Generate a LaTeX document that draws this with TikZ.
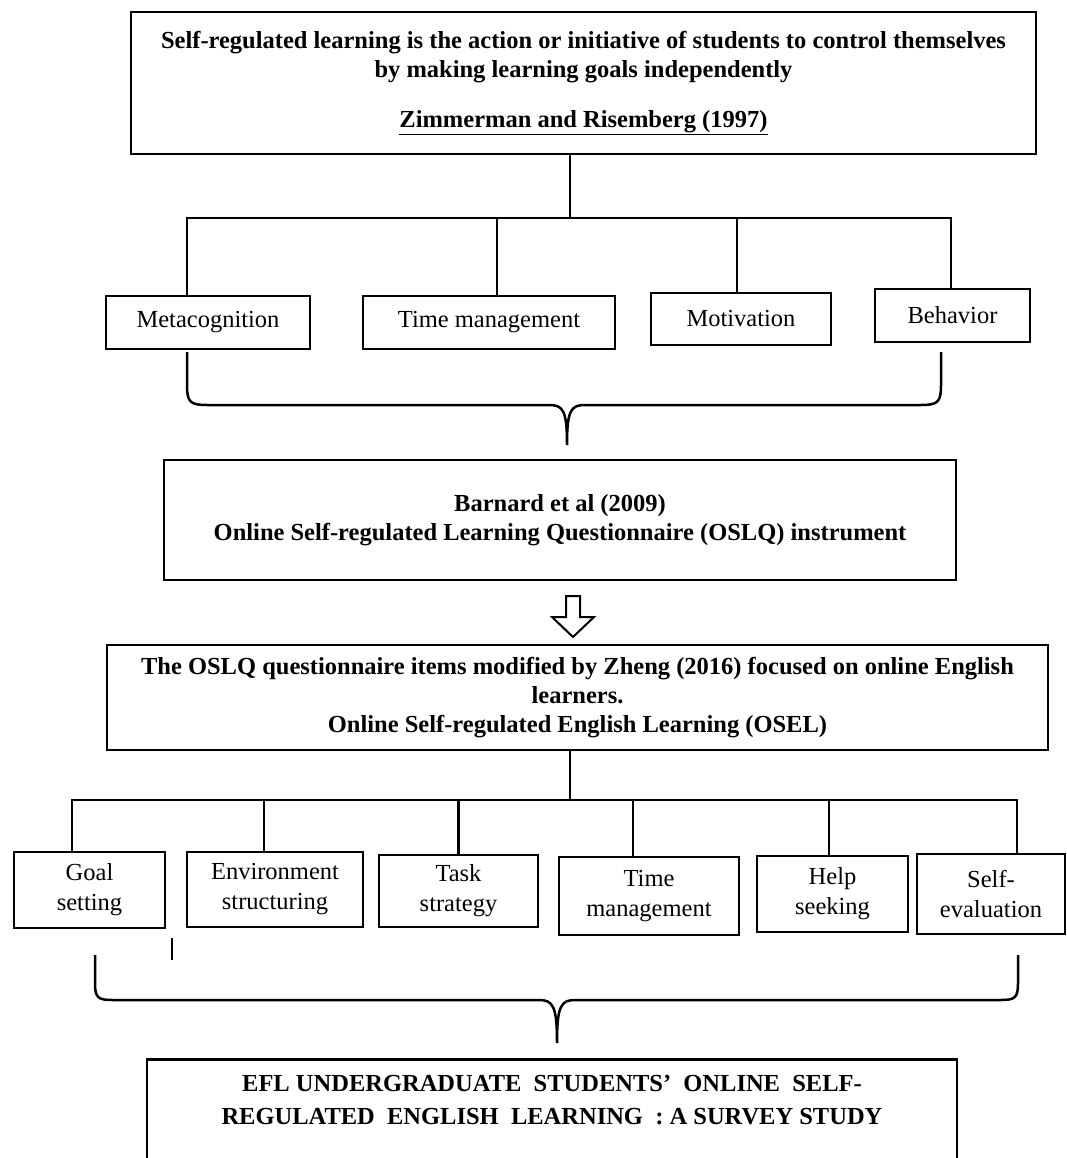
\documentclass[tikz,border=0pt]{standalone}
\usepackage{fontspec}
\setmainfont{Liberation Serif}
\usetikzlibrary{positioning}
\tikzstyle{bigbox} = [draw, line width=2.5pt, align=center, inner sep=0pt, font=\bfseries\fontsize{24.5}{29}\selectfont]
\tikzstyle{smallbox} = [draw, line width=2.5pt, align=center, inner sep=0pt, font=\fontsize{24.5}{30}\selectfont]
\tikzstyle{line} = [draw, line width=2.5pt]

\begin{document}
\begin{tikzpicture}[x=1pt,y=-1pt]
    \useasboundingbox (0,0) rectangle (1066,1158);
    % Draw definition box
    \node [bigbox, minimum width=905, minimum height=142] (srl) at (583.5,83)
        {Self-regulated learning is the action or initiative of students to control themselves\\
         by making learning goals independently\\[21pt]
         \underline{Zimmerman and Risemberg (1997)}};
    % Draw the four components
    \node [smallbox, minimum width=204, minimum height=53] (meta) at (208,322.5) {Metacognition};
    \node [smallbox, minimum width=252, minimum height=53] (timeA) at (489,322.5) {Time management};
    \node [smallbox, minimum width=180, minimum height=52] (motiv) at (741,319) {Motivation};
    \node [smallbox, minimum width=155, minimum height=53] (behav) at (952.5,315.5) {Behavior};
    \coordinate (busA) at (570,218);
    \draw [line] (srl.south -| busA) -- (busA);
    \draw [line] ([xshift=-21pt]meta.north) |- (busA);
    \draw [line] ([xshift=8pt]timeA.north) |- (busA);
    \draw [line] ([xshift=-4pt]motiv.north) |- (busA);
    \draw [line] ([xshift=-1.5pt]behav.north) |- (busA);
    % Draw first brace
    \draw [line width=2.5pt] (187,352) -- (187,385) .. controls (187,402) and (190,405) .. (207,405)
        -- (549,405) .. controls (563,405) and (567,410) .. (567,445)
        .. controls (567,410) and (571,405) .. (585,405) -- (921,405)
        .. controls (938,405) and (941,402) .. (941,385) -- (941,352);
    % Draw instrument box
    \node [bigbox, minimum width=792, minimum height=120] (oslq) at (560,520)
        {Barnard et al (2009)\\
         Online Self-regulated Learning Questionnaire (OSLQ) instrument};
    % Draw hollow arrow
    \draw [line width=2pt, fill=white] (566,596) -- (580,596) -- (580,617) -- (594,617)
        -- (573,637) -- (552,617) -- (566,617) -- cycle;
    % Draw modified instrument box
    \node [bigbox, minimum width=941, minimum height=105] (osel) at (577.5,697.5)
        {The OSLQ questionnaire items modified by Zheng (2016) focused on online English\\
         learners.\\
         Online Self-regulated English Learning (OSEL)};
    % Draw the six subscales
    \node [smallbox, minimum width=151, minimum height=76] (goal) at (89.5,890) {Goal\\setting};
    \node [smallbox, minimum width=176, minimum height=75] (env) at (275,889.5) {Environment\\structuring};
    \node [smallbox, minimum width=159, minimum height=72] (task) at (458.5,891) {Task\\strategy};
    \node [smallbox, minimum width=180, minimum height=78] (timeB) at (649,896) {Time\\management};
    \node [smallbox, minimum width=151, minimum height=76] (help) at (832.5,894) {Help\\seeking};
    \node [smallbox, minimum width=148, minimum height=80] (selfev) at (991,894) {Self-\\evaluation};
    \coordinate (busB) at (570,800);
    \draw [line] (osel.south -| busB) -- (busB);
    \draw [line] ([xshift=-17.5pt]goal.north) |- (busB);
    \draw [line] ([xshift=-11pt]env.north) |- (busB);
    \draw [line] (task.north) |- (busB);
    \draw [line] ([xshift=-16pt]timeB.north) |- (busB);
    \draw [line] ([xshift=-3.5pt]help.north) |- (busB);
    \draw [line] ([xshift=26pt]selfev.north) |- (busB);
    \draw [line width=1.5pt] (172,938) -- (172,960);
    % Draw second brace
    \draw [line width=2.5pt] (95,955) -- (95,983) .. controls (95,998) and (98,1000) .. (113,1000)
        -- (539,1000) .. controls (553,1000) and (557,1006) .. (557,1043)
        .. controls (557,1006) and (561,1000) .. (575,1000) -- (1000,1000)
        .. controls (1015,1000) and (1018,998) .. (1018,983) -- (1018,955);
    % Draw title box
    \node [bigbox, minimum width=810, anchor=north, inner ysep=16pt, text depth=70pt] (title) at (552,1058)
        {EFL UNDERGRADUATE \ STUDENTS' \ ONLINE \ SELF-\\[4pt]
         REGULATED \ ENGLISH \ LEARNING \ : A SURVEY STUDY};
\end{tikzpicture}
\end{document}
